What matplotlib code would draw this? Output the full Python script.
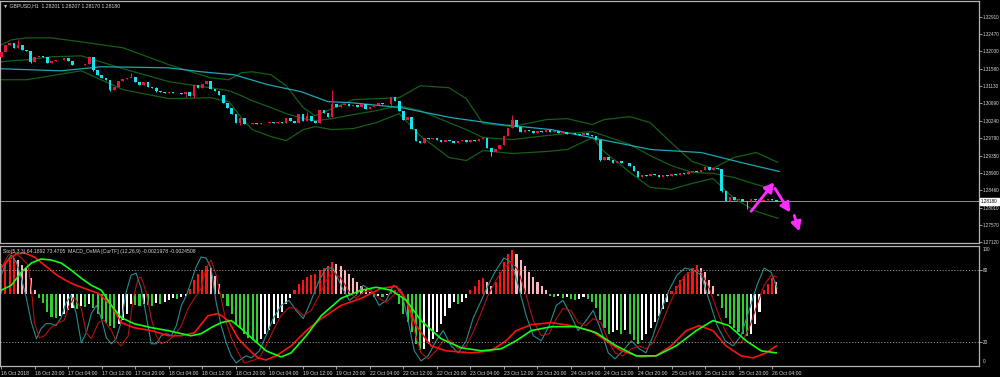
import matplotlib.pyplot as plt
import matplotlib.transforms as mtrans
import numpy as np

# GBPUSD H1, bar 0 = 16 Oct 2018 12:00 (weekend bars skipped like MT4 does)
first_open = 1.31886
closes = [
    1.32014, 1.32193, 1.32244, 1.32116, 1.32193, 1.32065, 1.32039, 1.31758, 1.31886, 1.31911,
    1.31886, 1.31732, 1.31783, 1.31809, 1.31796, 1.31860, 1.31783, 1.31681, 1.31668, 1.31681,
    1.31707, 1.31886, 1.31553, 1.31425, 1.31348, 1.31297, 1.31041, 1.31118, 1.31271, 1.31323,
    1.31348, 1.31374, 1.31246, 1.31169, 1.31246, 1.31118, 1.31092, 1.31015, 1.30990, 1.30964,
    1.30990, 1.30964, 1.30951, 1.30939, 1.30990, 1.30887, 1.31169, 1.31092, 1.31195, 1.31271,
    1.31067, 1.31015, 1.30913, 1.30708, 1.30580, 1.30427, 1.30196, 1.30324, 1.30171, 1.30158,
    1.30196, 1.30171, 1.30196, 1.30183, 1.30209, 1.30196, 1.30222, 1.30196, 1.30324, 1.30247,
    1.30196, 1.30427, 1.30247, 1.30375, 1.30247, 1.30196, 1.30529, 1.30452, 1.30350, 1.30683,
    1.30606, 1.30657, 1.30683, 1.30631, 1.30657, 1.30606, 1.30683, 1.30555, 1.30606, 1.30657,
    1.30708, 1.30683, 1.30670, 1.30862, 1.30759, 1.30503, 1.30273, 1.30350, 1.30043, 1.29735,
    1.29684, 1.29812, 1.29787, 1.29812, 1.29761, 1.29710, 1.29761, 1.29735, 1.29684, 1.29735,
    1.29761, 1.29710, 1.29761, 1.29735, 1.29787, 1.29812, 1.29556, 1.29454, 1.29531, 1.29633,
    1.29863, 1.30068, 1.30273, 1.30094, 1.29966, 1.30017, 1.29991, 1.29940, 1.29991, 1.29966,
    1.30017, 1.29966, 1.29991, 1.29940, 1.29966, 1.29915, 1.29940, 1.29915, 1.29889, 1.29940,
    1.29889, 1.29863, 1.29761, 1.29249, 1.29326, 1.29249, 1.29172, 1.29223, 1.29147, 1.29172,
    1.29095, 1.28942, 1.28788, 1.28839, 1.28814, 1.28865, 1.28839, 1.28788, 1.28839, 1.28814,
    1.28865, 1.28839, 1.28891, 1.28865, 1.28916, 1.28942, 1.28916, 1.28967, 1.29044, 1.28967,
    1.29019, 1.28993, 1.28430, 1.28174, 1.28276, 1.28199, 1.28225, 1.28174, 1.28148, 1.28225,
    1.28199, 1.28174, 1.28199, 1.28225, 1.28199, 1.28180,
]
# visible wicks (others hug the body)
wick_high = {4: 1.32321, 31: 1.31476, 37: 1.31118, 46: 1.31195, 73: 1.30478,
             79: 1.31041, 122: 1.30401}
wick_low = {7: 1.31732, 22: 1.31527, 26: 1.31015, 37: 1.30990, 44: 1.30862, 46: 1.30836,
            57: 1.30145, 76: 1.30196, 93: 1.30631, 117: 1.29351, 143: 1.29198,
            172: 1.28404, 178: 1.27969}
last_price = 1.28180

# moving average (cyan)
ma_bar = [0, 14.3, 23.9, 39.9, 47.7, 55.6, 63.7, 71.6, 78.0, 83.5, 95.5, 107.4, 119.3,
          131.3, 143.2, 155.1, 167.1, 176.6, 185.7]
ma_val = [1.31579, 1.31527, 1.31630, 1.31604, 1.31502, 1.31425, 1.31169, 1.30990, 1.30734,
          1.30708, 1.30580, 1.30324, 1.30145, 1.30017, 1.29761, 1.29505, 1.29428, 1.29172,
          1.28942]

# bollinger bands (dark green)
bb_bar = [0, 2.4, 6.0, 11.9, 19.1, 29.1, 40.1, 49.9, 54.4, 57.3, 59.9, 64.4, 68.0, 72.1,
          74.9, 79.0, 84.0, 89.5, 95.0, 100.0, 106.9, 111.0, 115.0, 122.0, 130.1, 135.1,
          141.1, 143.9, 150.1, 154.9, 159.9, 164.9, 169.9, 174.9, 180.2, 185.4]
bb_upper = [1.32193, 1.32321, 1.32372, 1.32372, 1.32270, 1.32116, 1.31681, 1.31348, 1.31297,
            1.31476, 1.31502, 1.31425, 1.31143, 1.30580, 1.30375, 1.30555, 1.30785, 1.30811,
            1.30836, 1.31143, 1.31092, 1.30811, 1.30171, 1.30094, 1.30273, 1.30299, 1.30145,
            1.30273, 1.30350, 1.30196, 1.29684, 1.29198, 1.29019, 1.29300, 1.29428, 1.29172]
bb_mid = [1.31758, 1.31783, 1.31809, 1.31886, 1.31911, 1.31579, 1.31246, 1.31092, 1.31015,
          1.30887, 1.30759, 1.30580, 1.30427, 1.30299, 1.30247, 1.30299, 1.30401, 1.30504,
          1.30631, 1.30504, 1.30196, 1.30017, 1.29812, 1.29761, 1.29863, 1.29915, 1.29966,
          1.29863, 1.29633, 1.29351, 1.29095, 1.28916, 1.28891, 1.28788, 1.28609, 1.28455]
bb_lower = [1.31297, 1.31297, 1.31297, 1.31399, 1.31527, 1.31041, 1.30811, 1.30836, 1.30734,
            1.30324, 1.30017, 1.29838, 1.29735, 1.30017, 1.30094, 1.30017, 1.30043, 1.30196,
            1.30427, 1.29863, 1.29300, 1.29223, 1.29479, 1.29403, 1.29454, 1.29505, 1.29812,
            1.29454, 1.28916, 1.28532, 1.28481, 1.28635, 1.28763, 1.28251, 1.27918, 1.27739]

# hand-drawn magenta arrows: (start bar, start price), (end bar, end price)
arrows = [((179.0, 1.27918), (184.5, 1.28660)),
          ((184.7, 1.28507), (188.3, 1.27892)),
          ((189.3, 1.27815), (190.5, 1.27406))]

price_ticks = [1.32910, 1.32470, 1.32030, 1.31580, 1.31130, 1.30690, 1.30240, 1.29790,
               1.29350, 1.28900, 1.28460, 1.28010, 1.27570, 1.27120]
time_labels = ['16 Oct 2018', '16 Oct 20:00', '17 Oct 04:00', '17 Oct 12:00', '17 Oct 20:00',
               '18 Oct 04:00', '18 Oct 12:00', '18 Oct 20:00', '19 Oct 04:00', '19 Oct 12:00',
               '19 Oct 20:00', '22 Oct 04:00', '22 Oct 12:00', '22 Oct 20:00', '23 Oct 04:00',
               '23 Oct 12:00', '23 Oct 20:00', '24 Oct 04:00', '24 Oct 12:00', '24 Oct 20:00',
               '25 Oct 04:00', '25 Oct 12:00', '25 Oct 20:00', '26 Oct 04:00']

# MACD OsMA histogram (units of 1e-5)
osma = [30, 32, 34, 36, 34, 29, 26, 16, 4, -4, -9, -18, -23, -24, -22, -20, -16, -14, -15, -12,
        -13, -10, -14, -20, -25, -29, -32, -34, -30, -26, -20, -10, -11, -12, -10, -11, -12, -9, -10, -8,
        -6, -4, -5, -3, -2, 5, 14, 20, 24, 28, 26, 18, 10, -4, -12, -20, -30, -34, -40, -44,
        -46, -48, -45, -40, -36, -30, -24, -18, -10, -4, 4, 10, 14, 17, 19, 20, 24, 26, 28, 32,
        30, 28, 24, 20, 16, 12, 8, 4, 2, -3, -2, -3, -1, 3, 4, -10, -20, -28, -38, -50,
        -56, -55, -50, -45, -38, -30, -22, -14, -8, -10, -8, -4, 4, 8, 14, 16, 12, 8, 12, 22,
        32, 40, 44, 40, 34, 28, 22, 17, 12, 8, 4, -2, -3, -2, -4, -3, -5, -6, -5, -3,
        -5, -8, -14, -26, -34, -40, -38, -36, -40, -36, -40, -46, -50, -46, -40, -34, -28, -22, -15, -8,
        3, 8, 14, 18, 22, 26, 29, 26, 22, 14, 8, -2, -14, -24, -30, -34, -38, -40, -42, -40,
        -30, -18, 4, 10, 16, 12]

# stochastic (thin) and slow smoothed lines (thick), 0..100 scale
sto_bar = [0, 1.2, 2.4, 3.6, 4.8, 6.0, 7.2, 8.4, 9.5, 10.7, 11.9, 13.1, 14.3, 15.5, 16.7, 17.9,
           19.1, 20.3, 21.5, 22.7, 23.9, 25.1, 26.3, 27.4, 28.6, 29.8, 31.0, 32.2, 33.4, 34.6,
           35.8, 37.0, 38.2, 39.4, 40.6, 41.8, 43.0, 44.2, 45.3, 46.5, 47.7, 48.9, 50.1, 51.3,
           52.5, 53.7, 54.9, 56.1, 57.3, 58.5, 59.7, 61.6, 63.2, 64.9, 66.8, 68.7, 70.4, 72.1,
           74.0, 75.9, 77.6, 79.2, 81.1, 83.1, 84.7, 86.4, 88.3, 90.2, 91.9, 93.6, 95.5, 97.1,
           98.6, 100.2, 101.9, 103.8, 105.5, 107.4, 109.1, 111.0, 112.6, 114.6, 116.2, 118.1,
           120.0, 121.7, 123.4, 125.3, 127.0, 128.9, 130.8, 132.5, 134.1, 136.0, 137.7, 139.6,
           141.3, 143.2, 144.9, 146.5, 148.4, 150.4, 152.3, 153.9, 155.6, 157.5, 159.4, 161.3,
           163.2, 165.2, 167.1, 169.0, 170.9, 172.8, 174.7, 176.6, 178.5, 180.4, 182.1, 183.8, 185.2]
sto_main = [75.3, 86.2, 92.0, 86.2, 72.8, 56.1, 36.0, 22.6, 31.0, 35.1, 35.1, 33.5, 40.2, 52.7,
            58.6, 43.5, 19.2, 27.6, 43.5, 50.2, 39.3, 23.4, 18.4, 22.6, 36.0, 61.1, 75.3, 77.0,
            64.4, 41.8, 18.4, 18.4, 25.1, 26.8, 25.1, 33.5, 50.2, 58.6, 69.5, 82.0, 90.4, 89.5,
            81.2, 52.7, 33.5, 19.2, 8.4, 2.5, 5.9, 8.4, 6.7, 12.6, 25.1, 39.3, 50.2, 54.4, 46.0,
            39.3, 54.4, 71.1, 81.2, 81.2, 66.9, 54.4, 58.6, 66.9, 62.8, 50.2, 54.4, 66.9, 62.8,
            37.7, 12.6, 4.2, 8.4, 20.9, 29.3, 16.7, 10.9, 20.9, 39.3, 54.4, 66.9, 79.5, 89.5,
            86.2, 66.9, 41.8, 25.1, 20.9, 33.5, 50.2, 54.4, 41.8, 29.3, 37.7, 46.0, 29.3, 10.9,
            5.9, 12.6, 20.9, 14.2, 10.9, 25.1, 46.0, 62.8, 75.3, 81.2, 79.5, 75.3, 54.4, 33.5,
            20.9, 16.7, 25.1, 46.0, 66.9, 81.2, 77.8, 64.4]
sig_bar = [0, 1.7, 3.1, 4.8, 6.4, 7.2, 7.9, 9.1, 10.3, 11.9, 13.6, 15.0, 16.2, 17.4, 19.1, 20.3,
           21.5, 23.2, 24.6, 26.3, 27.4, 28.6, 30.3, 31.5, 32.7, 33.4, 34.6, 35.8, 37.0, 38.2,
           39.9, 41.3, 43.0, 44.6, 46.1, 47.7, 48.9, 50.1, 51.3, 52.5, 53.7, 54.9, 56.6, 58.0,
           59.7, 61.6, 63.2, 64.9, 66.8, 68.7, 70.4, 72.1, 74.0, 75.9, 77.6, 79.2, 81.1, 83.1,
           84.7, 86.4, 88.3, 90.2, 91.9, 93.6, 95.5, 97.1, 98.6, 100.2, 101.9, 103.8, 105.5,
           107.4, 109.1, 111.0, 112.6, 114.6, 116.2, 118.1, 120.0, 121.7, 123.4, 125.3, 127.0,
           128.9, 130.8, 132.5, 134.1, 136.0, 137.7, 139.6, 141.3, 143.2, 144.9, 146.5, 148.4,
           150.4, 152.3, 153.9, 155.6, 157.5, 159.4, 161.3, 163.2, 165.2, 167.1, 169.0, 170.9,
           172.8, 174.7, 176.6, 178.5, 180.4, 182.1, 183.8, 185.2]
sto_signal = [81.2, 92.0, 94.6, 89.5, 83.7, 64.4, 36.0, 23.4, 25.1, 31.8, 36.0, 37.7, 50.2, 56.9,
              47.7, 27.6, 22.6, 36.0, 37.7, 29.3, 20.9, 16.7, 25.1, 56.1, 72.8, 73.6, 61.1, 39.3,
              25.1, 18.4, 20.9, 25.1, 33.5, 47.7, 56.1, 64.4, 81.2, 87.9, 75.3, 56.1, 36.0, 23.4,
              10.9, 2.5, 4.2, 6.7, 16.7, 29.3, 41.8, 48.5, 47.7, 41.8, 46.0, 58.6, 71.1, 77.8,
              72.8, 61.1, 56.1, 61.1, 62.8, 56.1, 52.7, 58.6, 62.8, 50.2, 29.3, 10.9, 5.9, 12.6,
              20.9, 20.9, 14.2, 16.7, 27.6, 44.4, 58.6, 71.1, 81.2, 86.2, 79.5, 58.6, 37.7, 25.1,
              26.8, 39.3, 47.7, 46.0, 36.0, 33.5, 39.3, 36.0, 20.9, 10.9, 8.4, 14.2, 16.7, 14.2,
              19.2, 33.5, 50.2, 64.4, 75.3, 79.5, 77.8, 64.4, 46.0, 29.3, 19.2, 19.2, 31.0, 50.2,
              66.9, 75.3, 73.6]
slow_red_bar = [0, 1.7, 3.6, 5.5, 7.9, 10.3, 13.6, 16.7, 19.8, 23.2, 26.3, 28.6, 31.7, 35.8,
                39.9, 43.0, 46.1, 49.4, 51.8, 54.2, 56.6, 58.9, 61.3, 63.2, 65.6, 69.2, 72.8,
                76.4, 81.1, 85.9, 90.7, 94.3, 96.7, 99.0, 102.6, 106.2, 112.2, 116.9, 120.5,
                122.9, 126.5, 131.3, 136.0, 140.8, 144.4, 148.0, 152.7, 156.3, 159.9, 163.5,
                166.6, 169.9, 173.0, 176.6, 179.5, 182.6, 185.0]
slow_red = [81.2, 87.9, 92.9, 93.7, 90.4, 83.7, 74.5, 68.6, 64.4, 60.2, 50.2, 36.0, 31.8, 29.3,
            25.1, 25.1, 27.6, 41.8, 43.5, 37.7, 22.6, 14.2, 6.7, 5.0, 8.4, 16.7, 29.3, 39.3, 50.2,
            56.1, 64.4, 66.1, 54.4, 33.5, 16.7, 12.6, 10.9, 12.6, 20.9, 29.3, 34.3, 36.0, 33.5,
            29.3, 20.9, 12.6, 7.5, 8.4, 16.7, 29.3, 33.5, 29.3, 16.7, 8.4, 6.7, 10.9, 16.7]
slow_green_bar = [0, 2.4, 4.8, 7.2, 9.5, 11.9, 14.3, 16.7, 19.1, 21.5, 23.9, 26.3, 28.6, 31.7,
                  35.8, 39.9, 43.0, 45.3, 47.7, 50.1, 52.5, 54.9, 57.3, 59.7, 63.2, 66.8, 69.2,
                  72.8, 76.4, 81.1, 85.9, 89.5, 93.1, 96.7, 100.2, 105.0, 109.8, 114.6, 119.3,
                  122.9, 126.5, 131.3, 137.2, 142.0, 146.8, 151.6, 156.3, 161.1, 165.9, 169.9,
                  173.7, 177.8, 181.4, 185.0]
slow_green = [62.8, 66.9, 77.8, 85.4, 88.7, 87.9, 85.4, 79.5, 72.8, 66.9, 62.8, 50.2, 40.2, 35.1,
              31.8, 29.3, 26.8, 25.1, 26.8, 31.8, 36.0, 37.7, 31.0, 23.4, 12.6, 7.5, 10.9, 25.1,
              41.8, 56.1, 62.8, 65.3, 62.8, 54.4, 37.7, 22.6, 15.1, 12.6, 14.2, 20.9, 29.3, 32.6,
              32.6, 27.6, 16.7, 8.4, 8.4, 16.7, 29.3, 37.7, 33.5, 20.9, 12.6, 10.9]

BG = 'black'
GRID = '#b4b4b4'
TXT = '#d8d8d8'
FONT = ['Liberation Sans', 'DejaVu Sans']
FS = 3.7
FS_AX = 3.3

plt.rcParams['font.family'] = FONT
fig = plt.figure(figsize=(10, 3.77), dpi=100, facecolor=BG)
W, H = 1000, 377
right = 979 / W
ax = fig.add_axes([0, 1 - 243 / H, right, 242 / H])
ax_h = fig.add_axes([0, 1 - 366 / H, right, 120 / H])
ax_s = fig.add_axes([0, 1 - 366 / H, right, 120 / H])

xmin, xmax = -0.3, 233.4

# ---- price panel ----
ax.set_facecolor(BG)
n = len(closes)
idx = np.arange(n)
c = np.array(closes)
o = np.array([first_open] + closes[:-1])
up = c >= o
hi = np.maximum(o, c)
lo = np.minimum(o, c)
for k, v in wick_high.items():
    hi[k] = v
for k, v in wick_low.items():
    lo[k] = v
col = np.where(up, '#e0173f', '#12e4ee')
ax.vlines(idx, lo, hi, colors=col, lw=0.7, zorder=3)
body = np.maximum(np.abs(c - o), 0.00004)
ax.bar(idx, body, bottom=np.minimum(o, c), width=0.62, color=col, linewidth=0, zorder=4)

ax.plot(bb_bar, bb_upper, color='#145f14', lw=0.9, zorder=2)
ax.plot(bb_bar, bb_mid, color='#145f14', lw=0.9, zorder=2)
ax.plot(bb_bar, bb_lower, color='#145f14', lw=0.9, zorder=2)
ax.plot(ma_bar, ma_val, color='#1fa6b4', lw=0.9, zorder=2)
ax.axhline(last_price, color='#a8a8a8', lw=0.6, zorder=1)

for (x0, y0), (x1, y1) in arrows:
    ax.annotate('', xy=(x1, y1), xytext=(x0, y0),
                arrowprops=dict(arrowstyle='-|>,head_length=0.55,head_width=0.3',
                                color='#ff2cff', lw=2.0, shrinkA=0, shrinkB=0,
                                mutation_scale=10), zorder=6)

ax.set_xlim(xmin, xmax)
ax.set_ylim(1.27105, 1.33319)
ax.set_xticks([])
ax.yaxis.tick_right()
ax.set_yticks(price_ticks)
ax.set_yticklabels(['%.5f' % p for p in price_ticks])
ax.tick_params(axis='y', length=2, width=0.6, colors=GRID, labelcolor=TXT,
               labelsize=FS_AX, pad=1)
for s in ax.spines.values():
    s.set_color(GRID)
    s.set_linewidth(0.9)

blend = mtrans.blended_transform_factory(ax.transAxes, ax.transData)
ax.text(1.002, last_price, '%.5f' % last_price, transform=blend, fontsize=FS_AX,
        color='black', va='center', ha='left',
        bbox=dict(facecolor='white', edgecolor='white', pad=0.7))

fig.text(0.003, 1 - 6 / H, '\u25bc GBPUSD,H1  1.28201 1.28207 1.28170 1.28180',
         color=TXT, fontsize=FS, va='center', ha='left', family=FONT)

# ---- indicator panel: histogram (behind) ----
ax_h.set_facecolor(BG)
hv = np.array(osma, dtype=float)
prev = np.concatenate([[hv[0]], hv[:-1]])
hcol = np.where(hv >= 0,
                np.where(hv >= prev, '#ff1414', '#ffb4bc'),
                np.where(hv <= prev, '#2fd02f', '#ffffff'))
ax_h.bar(np.arange(len(hv)), hv, width=0.5, color=hcol, linewidth=0)
ax_h.set_xlim(xmin, xmax)
ax_h.set_ylim(-72, 48)
ax_h.axis('off')

# ---- indicator panel: lines ----
ax_s.patch.set_visible(False)
ax_s.plot(sto_bar, sto_main, color='#2a8c8c', lw=0.8)
ax_s.plot(sig_bar, sto_signal, color='#b01212', lw=0.8)
ax_s.plot(slow_red_bar, slow_red, color='#ff1010', lw=1.2)
ax_s.plot(slow_green_bar, slow_green, color='#14ff14', lw=1.2)
for lev in (80, 20):
    ax_s.axhline(lev, color='#a0a0a0', lw=0.6, ls=(0, (1.5, 2)))
ax_s.set_xlim(xmin, xmax)
ax_s.set_ylim(0, 99.5)
ax_s.yaxis.tick_right()
ax_s.set_yticks([80, 20])
ax_s.set_yticklabels(['80', '20'])
ax_s.tick_params(axis='y', length=2, width=0.6, colors=GRID, labelcolor=TXT,
                 labelsize=FS_AX, pad=1)
blend2 = mtrans.blended_transform_factory(ax_s.transAxes, ax_s.transData)
ax_s.text(1.004, 98.5, '100', transform=blend2, fontsize=FS_AX, color=TXT, va='top', ha='left')
ax_s.text(1.004, 1.5, '0', transform=blend2, fontsize=FS_AX, color=TXT, va='bottom', ha='left')

tick_bars = list(range(0, 8 * len(time_labels), 8))
ax_s.set_xticks(tick_bars)
ax_s.set_xticklabels(time_labels)
ax_s.tick_params(axis='x', length=2.5, width=0.6, colors=GRID, labelcolor=TXT,
                 labelsize=FS, pad=1)
for lbl in ax_s.get_xticklabels():
    lbl.set_ha('left')
for s in ax_s.spines.values():
    s.set_color(GRID)
    s.set_linewidth(0.9)

fig.text(0.003, 1 - 251 / H,
         'Sto(5,3,3) 64.1892 73.4705  MACD_OsMA [CurTF] (12,26,9) -0.0021978 -0.0024508',
         color=TXT, fontsize=FS, va='center', ha='left', family=FONT)

fig.savefig('out.png', dpi=100, facecolor=BG)
